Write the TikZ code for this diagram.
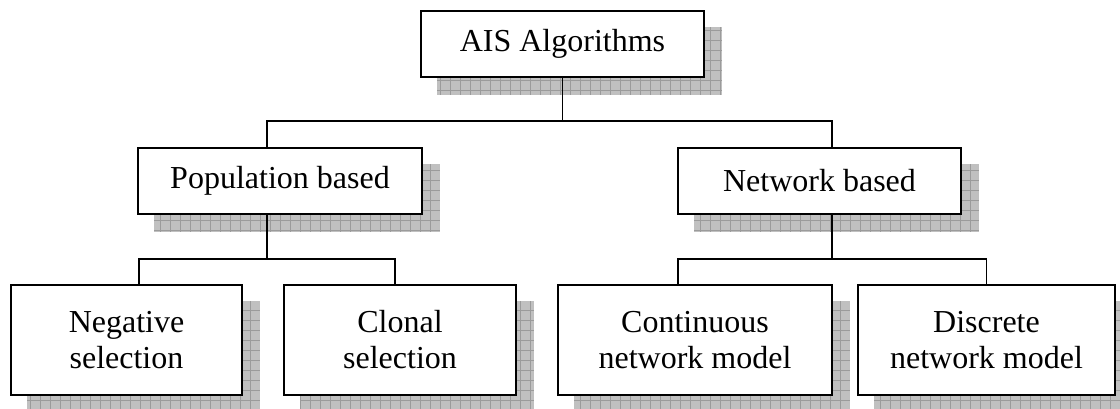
\documentclass[tikz,border=0pt]{standalone}
\usepackage{fontspec}
\setmainfont{Liberation Serif}
\usetikzlibrary{calc,backgrounds}

\tikzset{
  algbox/.style={draw, line width=1.4pt, fill=white, inner sep=0pt, align=center,
    font=\fontsize{24}{27}\selectfont},
  shadefill/.style={fill={rgb,255:red,192;green,192;blue,192}},
  shadegrid/.style={draw={rgb,255:red,155;green,155;blue,155}, line width=0.6pt},
  link/.style={line width=1.2pt}
}

\begin{document}
\begin{tikzpicture}[x=0.75pt,y=0.75pt,yscale=-1,xscale=1]
\useasboundingbox (0,0) rectangle (1120,408);

% Text Node
\node (ais) at (562.5,44) [algbox, minimum width=212.25pt, minimum height=49.5pt] {AIS Algorithms};
% Text Node
\node (pop) at (280,181) [algbox, minimum width=213pt, minimum height=49.5pt] {Population based};
% Text Node
\node (net) at (819.5,181) [algbox, minimum width=212.25pt, minimum height=49.5pt] {Network based};
% Text Node
\node (neg) at (126.5,340) [algbox, minimum width=173.25pt, minimum height=82.5pt] {Negative\\selection};
% Text Node
\node (clo) at (400,340) [algbox, minimum width=174pt, minimum height=82.5pt] {Clonal\\selection};
% Text Node
\node (con) at (695,340) [algbox, minimum width=205.5pt, minimum height=82.5pt] {Continuous\\network model};
% Text Node
\node (dis) at (986.5,340) [algbox, minimum width=192.75pt, minimum height=82.5pt] {Discrete\\network model};

\begin{pgfonlayer}{background}
%Shadows
\foreach \n in {ais,pop,net,neg,clo,con,dis}{
  \begin{scope}
    \clip ($(\n.north west)+(17,17)$) rectangle ($(\n.south east)+(17,17)$);
    \fill[shadefill] ($(\n.north west)+(17,17)$) rectangle ($(\n.south east)+(17,17)$);
    \draw[shadegrid, step=7.5pt] ($(\n.north west)+(7,7)$) grid ($(\n.south east)+(27,27)$);
  \end{scope}
}

%Straight Lines
\coordinate (j1) at ($(ais.south)+(0,43)$);
\draw[link] (ais.south) -- (j1);
\draw[link] ($(pop.north)+(-13,0)$) |- (j1) -| ($(net.north)+(12.5,0)$);
%Straight Lines
\coordinate (j2) at ($(pop.south)+(-13,44)$);
\draw[link] ($(pop.south)+(-13,0)$) -- (j2);
\draw[link] ($(neg.north)+(12.5,0)$) |- (j2) -| ($(clo.north)+(-5,0)$);
%Straight Lines
\coordinate (j3) at ($(net.south)+(12.5,44)$);
\draw[link] ($(net.south)+(12.5,0)$) -- (j3);
\draw[link] ($(con.north)+(-17,0)$) |- (j3) -| (dis.north);
\end{pgfonlayer}

\end{tikzpicture}
\end{document}
